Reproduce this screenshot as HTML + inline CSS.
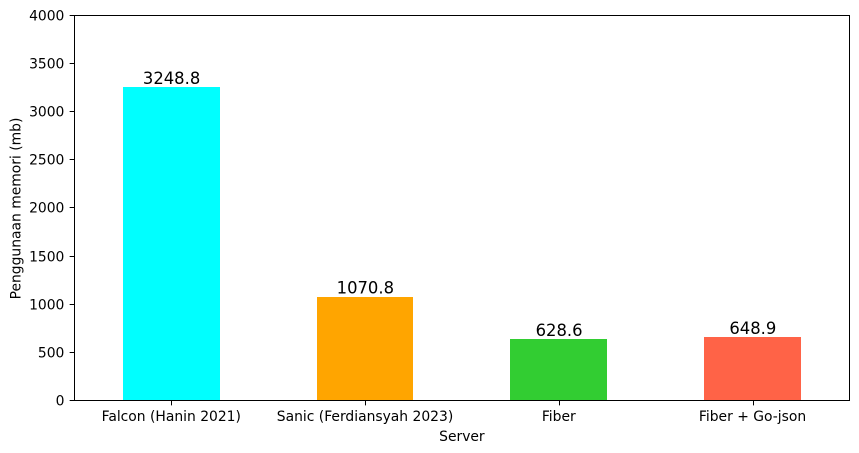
<!DOCTYPE html>
<html>
<head>
<meta charset="utf-8">
<style>
html,body{margin:0;padding:0;background:#fff;width:859px;height:453px;overflow:hidden}
svg{display:block}
text{font-family:"DejaVu Sans",sans-serif;fill:#000}
</style>
</head>
<body>
<svg id="chart" width="859" height="453" viewBox="0 0 859 453" xmlns="http://www.w3.org/2000/svg"></svg>
<script>
const categories = ["Falcon (Hanin 2021)", "Sanic (Ferdiansyah 2023)", "Fiber", "Fiber + Go-json"];
const memoryValues = [3248.8, 1070.8, 628.6, 648.9];
const barColors = ["#00ffff", "#ffa500", "#32cd32", "#ff6347"];
const yTicks = [0, 500, 1000, 1500, 2000, 2500, 3000, 3500, 4000];
const yDomain = [0, 4000];
const xAxisTitle = "Server";
const yAxisTitle = "Penggunaan memori (mb)";

const NS = "http://www.w3.org/2000/svg";
const svg = document.getElementById("chart");
const plot = {left: 74.4, right: 849.4, top: 14.9, bottom: 399.9};
const barWidthUnits = 0.5;
const tickLen = 4.86;
const tickFont = "13.89";

function xScale(i) {
  return plot.left + (i + 0.5) * (plot.right - plot.left) / categories.length;
}
function yScale(v) {
  return plot.bottom - (v - yDomain[0]) / (yDomain[1] - yDomain[0]) * (plot.bottom - plot.top);
}
function snapEdge(p) {
  return Math.ceil(p - 0.5);
}
function make(tag, attrs, text) {
  const el = document.createElementNS(NS, tag);
  for (const k in attrs) el.setAttribute(k, attrs[k]);
  if (text !== undefined) el.textContent = text;
  svg.appendChild(el);
  return el;
}

const unit = (plot.right - plot.left) / categories.length;

memoryValues.forEach((v, i) => {
  const cx = xScale(i);
  const w = unit * barWidthUnits;
  const x0 = snapEdge(cx - w / 2);
  const x1 = snapEdge(cx + w / 2);
  const y0 = snapEdge(yScale(v));
  const yBase = snapEdge(yScale(0));
  const bar = make("rect", {x: x0, y: y0, width: x1 - x0, height: yBase - y0, fill: barColors[i], "shape-rendering": "crispEdges"});
  
  
  const label = make("text", {x: cx + 0.3, y: yScale(v) - 3.4, "text-anchor": "middle", "font-size": "16.4"}, v.toFixed(1));
  
  
});

yTicks.forEach(t => {
  const y = Math.round(yScale(t)) + 0.5;
  const tick = make("line", {x1: Math.floor(plot.left) + 0.5 - tickLen, x2: Math.floor(plot.left) + 0.5, y1: y, y2: y, stroke: "#000", "stroke-width": 1});
  
  
  const label = make("text", {x: plot.left - 10, y: y + 5, "text-anchor": "end", "font-size": tickFont}, String(t));
  
  
});

categories.forEach((c, i) => {
  const x = Math.round(xScale(i)) + 0.5;
  const axisY = Math.round(plot.bottom) + 0.5;
  const tick = make("line", {x1: x, x2: x, y1: axisY, y2: axisY + tickLen, stroke: "#000", "stroke-width": 1});
  
  
  const label = make("text", {x: xScale(i), y: 421, "text-anchor": "middle", "font-size": tickFont}, c);
  
  
});

const frame = make("rect", {x: Math.floor(plot.left) + 0.5, y: Math.round(plot.top) + 0.5, width: plot.right - plot.left, height: plot.bottom - plot.top, fill: "none", stroke: "#000", "stroke-width": 1});



const xTitle = make("text", {x: 461.9, y: 441, "text-anchor": "middle", "font-size": tickFont}, xAxisTitle);



const yTitle = make("text", {x: 0, y: 0, "text-anchor": "middle", "font-size": tickFont, transform: "translate(20.5 208.5) rotate(-90)"}, yAxisTitle);


</script>
</body>
</html>
